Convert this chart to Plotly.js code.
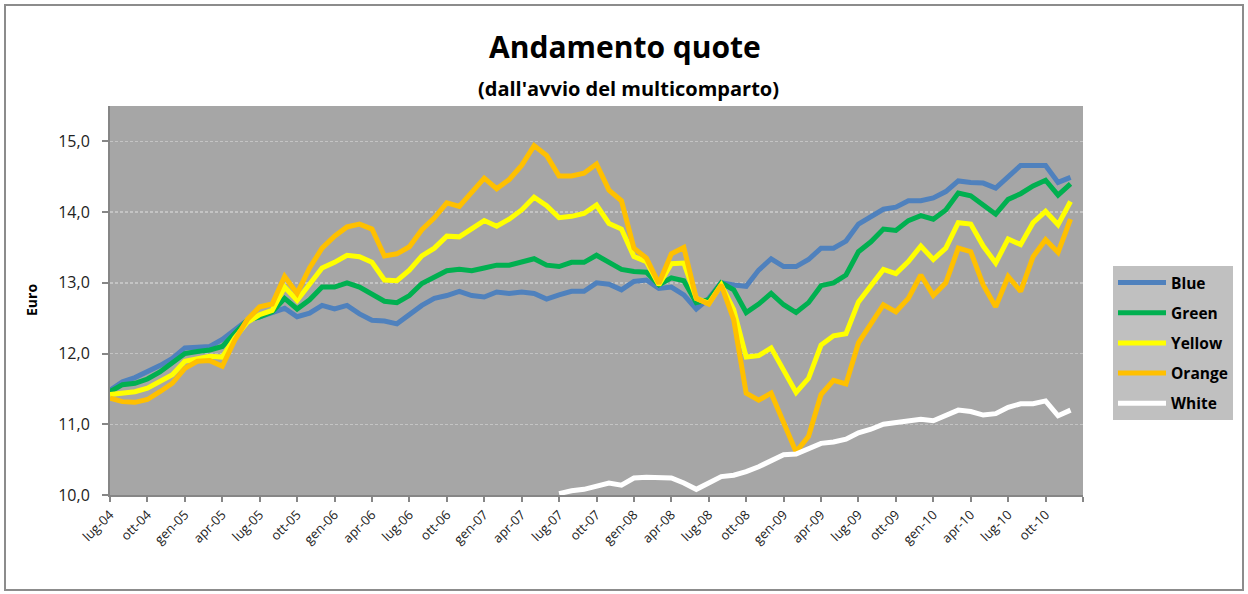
<!DOCTYPE html>
<html>
<head>
<meta charset="utf-8">
<script src="https://cdn.plot.ly/plotly-3.0.1.min.js"></script>
<style>html,body{margin:0;padding:0;background:#fff;}#chart{width:1248px;height:594px;}</style>
</head>
<body>
<div id="chart"></div>
<script>
const months = [
 "lug-04","ago-04","set-04","ott-04","nov-04","dic-04",
 "gen-05","feb-05","mar-05","apr-05","mag-05","giu-05","lug-05","ago-05","set-05","ott-05","nov-05","dic-05",
 "gen-06","feb-06","mar-06","apr-06","mag-06","giu-06","lug-06","ago-06","set-06","ott-06","nov-06","dic-06",
 "gen-07","feb-07","mar-07","apr-07","mag-07","giu-07","lug-07","ago-07","set-07","ott-07","nov-07","dic-07",
 "gen-08","feb-08","mar-08","apr-08","mag-08","giu-08","lug-08","ago-08","set-08","ott-08","nov-08","dic-08",
 "gen-09","feb-09","mar-09","apr-09","mag-09","giu-09","lug-09","ago-09","set-09","ott-09","nov-09","dic-09",
 "gen-10","feb-10","mar-10","apr-10","mag-10","giu-10","lug-10","ago-10","set-10","ott-10","nov-10","dic-10"
];
const tickLabels = ["lug-04","ott-04","gen-05","apr-05","lug-05","ott-05","gen-06","apr-06","lug-06","ott-06",
 "gen-07","apr-07","lug-07","ott-07","gen-08","apr-08","lug-08","ott-08","gen-09","apr-09","lug-09","ott-09",
 "gen-10","apr-10","lug-10","ott-10"];

const blue = [11.48,11.60,11.66,11.74,11.83,11.93,12.08,12.09,12.10,12.20,12.34,12.47,12.52,12.58,12.64,12.52,12.57,12.68,12.63,12.68,12.56,12.47,12.46,12.42,12.55,12.68,
 12.78,12.82,12.88,12.82,12.80,12.87,12.85,12.87,12.85,12.77,12.83,12.88,12.88,13.00,12.98,12.90,13.02,13.04,12.92,12.94,12.83,12.63,12.78,13.00,12.97,12.95,
 13.18,13.34,13.23,13.23,13.33,13.49,13.49,13.59,13.83,13.93,14.04,14.07,14.16,14.16,14.20,14.29,14.44,14.42,14.41,14.34,14.49,14.66,14.66,14.66,14.42,14.49];
const green = [11.46,11.56,11.58,11.64,11.74,11.86,12.00,12.03,12.05,12.10,12.29,12.47,12.52,12.59,12.78,12.63,12.76,12.94,12.94,13.00,12.94,12.83,12.74,12.72,12.82,12.99,
 13.09,13.17,13.19,13.17,13.21,13.25,13.25,13.29,13.34,13.25,13.23,13.29,13.29,13.39,13.28,13.19,13.16,13.15,12.97,13.07,13.03,12.72,12.76,13.00,12.90,12.58,
 12.70,12.85,12.69,12.58,12.72,12.96,13.00,13.11,13.44,13.58,13.76,13.74,13.88,13.95,13.90,14.03,14.27,14.23,14.10,13.97,14.18,14.26,14.37,14.45,14.24,14.40];
const yellow = [11.42,11.44,11.46,11.51,11.60,11.70,11.89,11.93,11.96,11.95,12.22,12.44,12.55,12.61,12.94,12.75,12.99,13.21,13.29,13.39,13.37,13.29,13.04,13.03,13.18,13.38,
 13.49,13.66,13.65,13.76,13.88,13.80,13.90,14.03,14.21,14.09,13.92,13.94,13.98,14.10,13.84,13.76,13.37,13.30,12.97,13.27,13.28,12.78,12.71,12.97,12.62,11.95,
 11.97,12.08,11.77,11.45,11.65,12.12,12.25,12.28,12.73,12.97,13.19,13.13,13.30,13.52,13.33,13.49,13.85,13.83,13.52,13.28,13.62,13.54,13.85,14.01,13.82,14.15];
const orange = [11.37,11.32,11.31,11.35,11.46,11.58,11.79,11.89,11.90,11.82,12.19,12.48,12.66,12.70,13.09,12.85,13.21,13.49,13.66,13.79,13.83,13.76,13.38,13.41,13.51,13.75,
 13.92,14.13,14.08,14.28,14.48,14.33,14.46,14.66,14.94,14.80,14.51,14.51,14.55,14.68,14.31,14.16,13.49,13.35,12.99,13.41,13.50,12.78,12.70,12.97,12.48,11.44,
 11.34,11.44,11.04,10.61,10.83,11.42,11.62,11.57,12.15,12.41,12.69,12.59,12.78,13.11,12.82,13.00,13.49,13.44,12.97,12.66,13.09,12.88,13.37,13.61,13.43,13.90];
const whiteStart = "lug-07";
const white = [10.02,10.06,10.08,10.13,10.17,10.14,10.24,10.25,10.24,10.24,10.17,10.08,10.17,10.26,10.28,10.33,10.40,10.49,10.57,10.58,
 10.65,10.73,10.75,10.79,10.88,10.93,11.00,11.02,11.05,11.07,11.05,11.12,11.20,11.18,11.13,11.15,11.24,11.29,11.29,11.33,11.12,11.20];

const idx = months.map((m, i) => i);
const wIdx = idx.slice(months.indexOf(whiteStart));
const tickVals = tickLabels.map(t => months.indexOf(t)).concat([months.length]);
const tickText = tickLabels.concat([""]);

const FONT = "Open Sans, Lato, sans-serif";
function tr(name, x, y, color, g) {
  return {type: "scatter", mode: "lines", name: name, x: x, y: y, legendgroup: g,
          line: {color: color, width: 5}, hoverinfo: "skip"};
}
const data = [
  tr("Blue", idx, blue, "#4F81BD", "a"),
  tr("Green", idx, green, "#00B050", "b"),
  tr("Yellow", idx, yellow, "#FFFF00", "c"),
  tr("Orange", idx, orange, "#FFC000", "d"),
  tr("White", wIdx, white, "#FFFFFF", "e")
];

const L = 110, R = 1083, T = 106, B = 495;
const px = v => (v - L) / (R - L);
const py = v => (B - v) / (B - T);

const layout = {
  width: 1248, height: 594,
  margin: {l: L, r: 1248 - R, t: T, b: 594 - B, pad: 0},
  paper_bgcolor: "#FFFFFF",
  plot_bgcolor: "#A6A6A6",
  separators: ",.",
  showlegend: true,
  font: {family: FONT, color: "#222"},
  xaxis: {
    type: "linear", range: [0, months.length], tickmode: "array",
    tickvals: tickVals, ticktext: tickText, tickangle: -45,
    tickfont: {size: 13, color: "#222", family: FONT},
    ticks: "outside", ticklen: 5, tickwidth: 2, tickcolor: "#868686",
    showline: true, linecolor: "#868686", linewidth: 2,
    showgrid: false, zeroline: false, fixedrange: true
  },
  yaxis: {
    range: [10, 15.5], tickmode: "array", tickvals: [10, 11, 12, 13, 14, 15],
    tickformat: ".1f", tickfont: {size: 16, color: "#222", family: FONT},
    ticks: "outside", ticklen: 6, tickwidth: 2, tickcolor: "#868686",
    ticklabelstandoff: 9,
    showline: true, linecolor: "#868686", linewidth: 2,
    showgrid: true, gridcolor: "#C4C4C4", gridwidth: 1.5, griddash: "3px,2px",
    zeroline: false, fixedrange: true
  },
  legend: {
    x: px(1113), y: py(266), xanchor: "left", yanchor: "top",
    bgcolor: "#C0C0C0", borderwidth: 0,
    font: {family: FONT, size: 15.5, color: "#000", weight: "bold"},
    tracegroupgap: 7, itemwidth: 48
  },
  annotations: [
    {text: "<b>Andamento quote</b>", xref: "paper", yref: "paper", x: px(625), y: py(47),
     xanchor: "center", yanchor: "middle", showarrow: false,
     font: {family: FONT, size: 30, color: "#000"}},
    {text: "<b>(dall'avvio del multicomparto)</b>", xref: "paper", yref: "paper", x: px(628), y: py(88),
     xanchor: "center", yanchor: "middle", showarrow: false,
     font: {family: FONT, size: 20, color: "#000"}},
    {text: "<b>Euro</b>", xref: "paper", yref: "paper", x: px(31), y: py(300),
     xanchor: "center", yanchor: "middle", showarrow: false, textangle: -90,
     font: {family: FONT, size: 14, color: "#000"}}
  ],
  shapes: [
    {type: "rect", xref: "paper", yref: "paper", x0: px(5), x1: px(1243), y0: py(590), y1: py(5),
     line: {color: "#8C8C8C", width: 2}, fillcolor: "rgba(0,0,0,0)", layer: "below"}
  ]
};

Plotly.newPlot("chart", data, layout, {displayModeBar: false, staticPlot: true});
</script>
</body>
</html>
